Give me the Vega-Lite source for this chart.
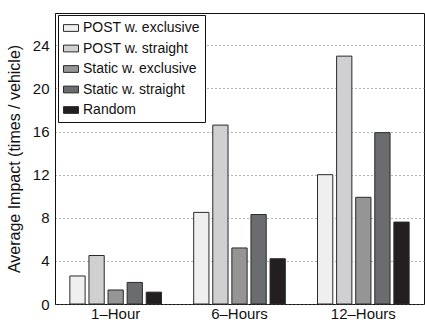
{
  "$schema": "https://vega.github.io/schema/vega-lite/v6.json",
  "width": 369,
  "height": 291,
  "autosize": {"type": "none"},
  "padding": {"left": 55, "top": 13, "right": 1, "bottom": 18},
  "background": "white",
  "data": {
    "values": [
      {"period": "1–Hour", "method": "POST w. exclusive", "impact": 2.6},
      {"period": "1–Hour", "method": "POST w. straight", "impact": 4.5},
      {"period": "1–Hour", "method": "Static w. exclusive", "impact": 1.3},
      {"period": "1–Hour", "method": "Static w. straight", "impact": 2.0},
      {"period": "1–Hour", "method": "Random", "impact": 1.1},
      {"period": "6–Hours", "method": "POST w. exclusive", "impact": 8.5},
      {"period": "6–Hours", "method": "POST w. straight", "impact": 16.6},
      {"period": "6–Hours", "method": "Static w. exclusive", "impact": 5.2},
      {"period": "6–Hours", "method": "Static w. straight", "impact": 8.3},
      {"period": "6–Hours", "method": "Random", "impact": 4.2},
      {"period": "12–Hours", "method": "POST w. exclusive", "impact": 12.0},
      {"period": "12–Hours", "method": "POST w. straight", "impact": 23.0},
      {"period": "12–Hours", "method": "Static w. exclusive", "impact": 9.9},
      {"period": "12–Hours", "method": "Static w. straight", "impact": 15.9},
      {"period": "12–Hours", "method": "Random", "impact": 7.6}
    ]
  },
  "mark": {"type": "bar", "stroke": "#2a2a2a", "strokeWidth": 1},
  "encoding": {
    "x": {
      "field": "period", "type": "nominal", "sort": ["1–Hour", "6–Hours", "12–Hours"],
      "scale": {"paddingInner": 0.26, "paddingOuter": 0.12},
      "axis": {"title": null, "labelAngle": 0, "labelFontSize": 15, "labelColor": "#111", "labelFont": "Liberation Sans", "tickSize": -4, "labelPadding": 6, "domainColor": "#111", "tickColor": "#111"}
    },
    "xOffset": {
      "field": "method", "type": "nominal",
      "sort": ["POST w. exclusive", "POST w. straight", "Static w. exclusive", "Static w. straight", "Random"],
      "scale": {"paddingInner": 0.2}
    },
    "y": {
      "field": "impact", "type": "quantitative",
      "scale": {"domain": [0, 27], "nice": false},
      "axis": {"title": "Average Impact (times / vehicle)", "titleFontSize": 16, "titleFontWeight": "normal", "titleFont": "Liberation Sans", "titleColor": "#111", "titlePadding": 10, "values": [0, 4, 8, 12, 16, 20, 24], "labelFontSize": 15, "labelFont": "Liberation Sans", "labelColor": "#111", "tickSize": -369, "tickDash": [1, 3], "tickColor": "#666", "tickWidth": 1, "labelPadding": 375, "domainColor": "#111", "grid": false, "zindex": 0}
    },
    "fill": {
      "field": "method", "type": "nominal",
      "sort": ["POST w. exclusive", "POST w. straight", "Static w. exclusive", "Static w. straight", "Random"],
      "scale": {"domain": ["POST w. exclusive", "POST w. straight", "Static w. exclusive", "Static w. straight", "Random"], "range": ["#eeefee", "#d0d0d2", "#959595", "#6b6c6f", "#231f20"]},
      "legend": {
        "title": null, "orient": "none", "legendX": 3, "legendY": 2,
        "symbolType": "M-1,-0.45H1V0.45H-1Z", "symbolSize": 225, "symbolStrokeColor": "#2a2a2a", "symbolStrokeWidth": 1, "symbolOpacity": 1,
        "labelFontSize": 14, "labelFont": "Liberation Sans", "labelColor": "#111", "labelOffset": 4,
        "rowPadding": 5.5, "strokeColor": "#111", "fillColor": "white", "padding": 5
      }
    }
  },
  "config": {"view": {"stroke": "#111"}}
}
